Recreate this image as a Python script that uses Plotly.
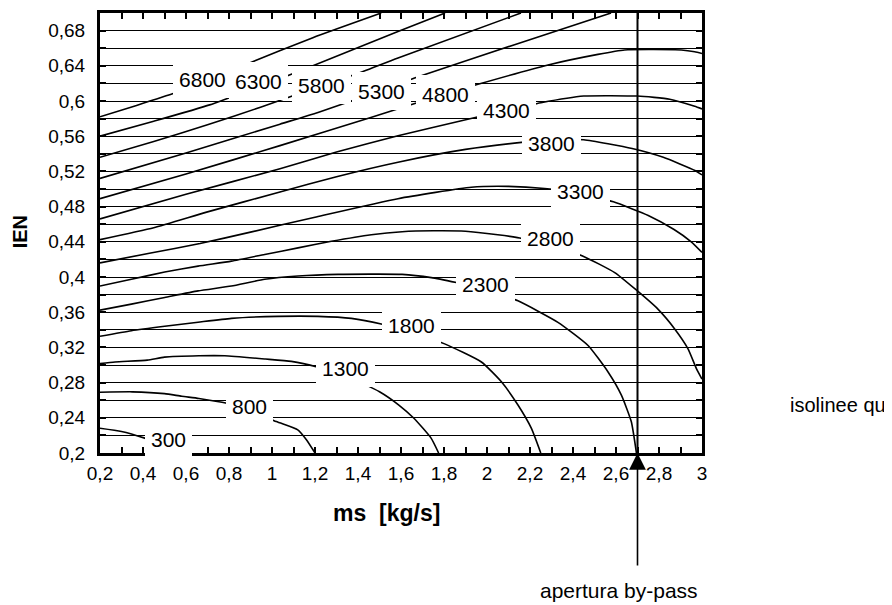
import plotly.graph_objects as go

FONT = "Liberation Sans, Arial, sans-serif"

# ---------------- data ----------------
levels = [300, 800, 1300, 1800, 2300, 2800, 3300, 3800, 4300, 4800, 5300, 5800, 6300, 6800]

iso_300_x = [0.2, 0.3, 0.408, 0.48, 0.56]
iso_300_y = [0.2282, 0.2245, 0.2169, 0.2105, 0.2]

iso_800_x = [0.2, 0.35, 0.5, 0.58, 0.66, 0.79, 0.9, 1.02, 1.12, 1.16, 1.2]
iso_800_y = [0.269, 0.2695, 0.2675, 0.2645, 0.262, 0.2565, 0.249, 0.2357, 0.2263, 0.215, 0.2]

iso_1300_x = [0.2, 0.27, 0.42, 0.5, 0.66, 0.78, 0.97, 1.09, 1.21, 1.35, 1.5, 1.59, 1.66, 1.74, 1.775]
iso_1300_y = [0.3015, 0.3034, 0.3055, 0.309, 0.3105, 0.3105, 0.3068, 0.3041, 0.2978, 0.287, 0.2696, 0.2545, 0.2395, 0.2169, 0.2]

iso_1800_x = [0.2, 0.346, 0.501, 0.656, 0.811, 1.028, 1.214, 1.369, 1.508, 1.65, 1.803, 1.974, 2.067, 2.144, 2.206, 2.25]
iso_1800_y = [0.3327, 0.339, 0.344, 0.3486, 0.353, 0.3553, 0.3553, 0.353, 0.3466, 0.337, 0.324, 0.3034, 0.2809, 0.2545, 0.2282, 0.2]

iso_2300_x = [0.2, 0.346, 0.501, 0.656, 0.811, 0.966, 1.121, 1.307, 1.605, 1.741, 1.857, 2.0, 2.144, 2.33, 2.47, 2.563, 2.625, 2.671, 2.695]
iso_2300_y = [0.3624, 0.3692, 0.3767, 0.3842, 0.3898, 0.3974, 0.4011, 0.403, 0.403, 0.3993, 0.3937, 0.386, 0.3729, 0.3485, 0.3222, 0.2921, 0.2658, 0.2357, 0.2]

iso_2800_x = [0.2, 0.346, 0.501, 0.656, 0.811, 0.966, 1.121, 1.276, 1.462, 1.605, 1.75, 1.9, 2.05, 2.152, 2.3, 2.447, 2.594, 2.69, 2.795, 2.873, 2.935, 2.974, 3.0]
iso_2800_y = [0.3898, 0.3974, 0.4056, 0.4124, 0.418, 0.4256, 0.4331, 0.4406, 0.4481, 0.4515, 0.4525, 0.452, 0.448, 0.4444, 0.436, 0.4237, 0.405, 0.3861, 0.3635, 0.341, 0.3184, 0.2959, 0.284]

iso_3300_x = [0.2, 0.43, 0.665, 0.9, 1.2, 1.586, 1.927, 2.1, 2.268, 2.433, 2.588, 2.75, 2.87, 2.95, 3.0]
iso_3300_y = [0.416, 0.427, 0.438, 0.451, 0.468, 0.489, 0.502, 0.503, 0.5005, 0.495, 0.4854, 0.47, 0.454, 0.44, 0.428]

iso_3800_x = [0.2, 0.45, 0.7, 1.037, 1.3, 1.586, 1.9, 2.16, 2.3, 2.45, 2.675, 2.82, 2.967, 3.0]
iso_3800_y = [0.4425, 0.456, 0.474, 0.4966, 0.514, 0.5305, 0.545, 0.553, 0.556, 0.556, 0.546, 0.536, 0.5211, 0.516]

iso_4300_x = [0.2, 0.6, 1.037, 1.3, 1.586, 1.881, 2.092, 2.251, 2.45, 2.7, 2.85, 2.966, 3.0]
iso_4300_y = [0.466, 0.494, 0.523, 0.542, 0.5606, 0.5775, 0.5895, 0.598, 0.6056, 0.6056, 0.602, 0.594, 0.591]

iso_4800_x = [0.2, 0.6, 1.037, 1.456, 1.805, 1.958, 2.284, 2.516, 2.64, 2.904, 2.966, 3.0]
iso_4800_y = [0.489, 0.517, 0.5493, 0.581, 0.608, 0.619, 0.641, 0.653, 0.658, 0.658, 0.656, 0.654]

iso_5300_x = [0.2, 0.6, 1.037, 1.214, 1.51, 1.663, 2.128, 2.577]
iso_5300_y = [0.512, 0.541, 0.5737, 0.587, 0.612, 0.626, 0.664, 0.7]

iso_5800_x = [0.2, 0.45, 0.7, 0.95, 1.228, 1.385, 1.586, 2.158]
iso_5800_y = [0.536, 0.554, 0.573, 0.5932, 0.617, 0.63, 0.649, 0.7]

iso_6300_x = [0.2, 0.45, 0.71, 0.935, 1.17, 1.586, 1.805]
iso_6300_y = [0.56, 0.577, 0.5956, 0.616, 0.638, 0.679, 0.7]

iso_6800_x = [0.2, 0.37, 0.547, 0.679, 0.873, 1.19, 1.508]
iso_6800_y = [0.582, 0.595, 0.609, 0.621, 0.641, 0.672, 0.7]

label_text = ["300", "800", "1300", "1800", "2300", "2800", "3300",
              "3800", "4300", "4800", "5300", "5800", "6300", "6800"]
label_x = [0.52, 0.893, 1.342, 1.65, 1.994, 2.293, 2.433, 2.301, 2.092, 1.805, 1.51, 1.228, 0.935, 0.679]
label_y = [0.217, 0.255, 0.298, 0.3463, 0.3934, 0.4459, 0.4986, 0.553, 0.5906, 0.6094, 0.6122, 0.619, 0.624, 0.626]

x_tick_vals = [0.2, 0.4, 0.6, 0.8, 1.0, 1.2, 1.4, 1.6, 1.8, 2.0, 2.2, 2.4, 2.6, 2.8, 3.0]
x_tick_text = ["0,2", "0,4", "0,6", "0,8", "1", "1,2", "1,4", "1,6", "1,8", "2", "2,2", "2,4", "2,6", "2,8", "3"]
y_tick_vals = [0.2, 0.24, 0.28, 0.32, 0.36, 0.4, 0.44, 0.48, 0.52, 0.56, 0.6, 0.64, 0.68]
y_tick_text = ["0,2", "0,24", "0,28", "0,32", "0,36", "0,4", "0,44", "0,48", "0,52", "0,56", "0,6", "0,64", "0,68"]

bypass_x = 2.7

# ---------------- figure ----------------
iso_x = [iso_300_x, iso_800_x, iso_1300_x, iso_1800_x, iso_2300_x, iso_2800_x, iso_3300_x,
         iso_3800_x, iso_4300_x, iso_4800_x, iso_5300_x, iso_5800_x, iso_6300_x, iso_6800_x]
iso_y = [iso_300_y, iso_800_y, iso_1300_y, iso_1800_y, iso_2300_y, iso_2800_y, iso_3300_y,
         iso_3800_y, iso_4300_y, iso_4800_y, iso_5300_y, iso_5800_y, iso_6300_y, iso_6800_y]

fig = go.Figure()
for lvl, xs, ys in zip(levels, iso_x, iso_y):
    fig.add_trace(go.Scatter(
        x=xs, y=ys, mode="lines", name=str(lvl),
        line=dict(color="black", width=1.6, shape="spline", smoothing=0.5),
        hoverinfo="skip", showlegend=False))

for t, lx, ly in zip(label_text, label_x, label_y):
    fig.add_annotation(
        x=lx, y=ly, xref="x", yref="y", text=t, showarrow=False,
        font=dict(family=FONT, size=21, color="black"),
        bgcolor="white", borderwidth=0, borderpad=0,
        width=len(t) * 11.7 + 12, height=38, yshift=-1)

# by-pass vertical line and arrow
fig.add_shape(type="line", xref="x", yref="y", x0=bypass_x, x1=bypass_x, y0=0.2, y1=0.7,
              line=dict(color="black", width=2))
fig.add_annotation(x=bypass_x, y=0.2, xref="x", yref="y", text="", showarrow=True,
                   ax=0, ay=114, arrowhead=2, arrowsize=2.1, arrowwidth=1.6,
                   arrowcolor="black", standoff=0)

fig.add_annotation(x=0.862, y=-0.3136, xref="paper", yref="paper", text="apertura by-pass",
                   showarrow=False, font=dict(family=FONT, size=21, color="black"),
                   xanchor="center", yanchor="middle")
fig.add_annotation(x=1.143, y=0.108, xref="paper", yref="paper", text="isolinee qu",
                   showarrow=False, font=dict(family=FONT, size=20, color="black"),
                   xanchor="left", yanchor="middle")
fig.add_annotation(x=0.4767, y=-0.1353, xref="paper", yref="paper", text="<b>ms&nbsp; [kg/s]</b>",
                   showarrow=False, font=dict(family=FONT, size=23, color="black"),
                   xanchor="center", yanchor="middle")
fig.add_annotation(x=-0.1335, y=0.503, xref="paper", yref="paper", text="<b>IEN</b>",
                   textangle=-90, showarrow=False, font=dict(family=FONT, size=20, color="black"),
                   xanchor="center", yanchor="middle")

fig.update_xaxes(
    range=[0.2, 3.0], tickmode="array", tickvals=x_tick_vals, ticktext=x_tick_text,
    ticks="inside", ticklen=6, tickwidth=1.5, tickcolor="black",
    showline=True, linewidth=3, linecolor="black", mirror="ticks",
    showgrid=False, zeroline=False,
    tickfont=dict(family=FONT, size=19, color="black"), ticklabelstandoff=1,
    minor=dict(dtick=0.1, tick0=0.2, ticks="inside", ticklen=6, tickwidth=1.5,
               tickcolor="black", showgrid=False))

fig.update_yaxes(
    range=[0.2, 0.7], tickmode="array", tickvals=y_tick_vals, ticktext=y_tick_text,
    ticks="inside", ticklen=6, tickwidth=1.5, tickcolor="black",
    showline=True, linewidth=3, linecolor="black", mirror="ticks",
    showgrid=True, gridcolor="black", gridwidth=1, zeroline=False,
    tickfont=dict(family=FONT, size=19, color="black"), ticklabelstandoff=8,
    minor=dict(dtick=0.02, tick0=0.2, ticks="inside", ticklen=6, tickwidth=1.5,
               tickcolor="black", showgrid=True, gridcolor="black", gridwidth=1))

# the page adds an 8px body margin, so the figure is sized to fit the window
fig.update_layout(
    width=884, height=597,
    margin=dict(l=92, r=190, t=2, b=152),
    paper_bgcolor="white", plot_bgcolor="white",
    showlegend=False,
    font=dict(family=FONT, color="black"))

fig.write_html("out.html")
